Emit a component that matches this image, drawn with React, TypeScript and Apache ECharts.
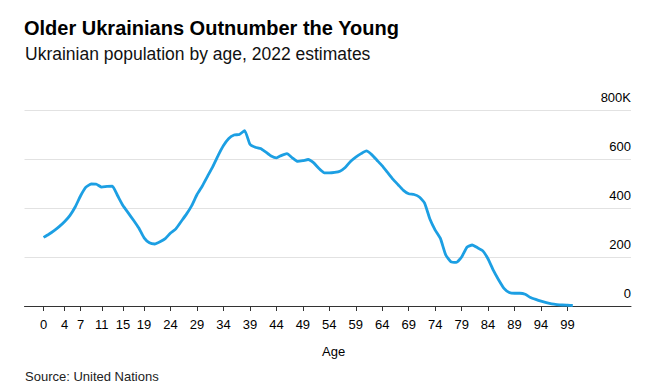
import React, { useEffect, useRef } from "react";
import * as echarts from "echarts";

const ages: number[] = Array.from({ length: 101 }, (_, i) => i);
const population: number[] = [
  280, 293, 308, 325, 345, 370, 405, 450, 485, 498,
  497, 485, 488, 489, 450, 410, 380, 350, 318, 278,
  258, 253, 262, 275, 298, 315, 345, 375, 410, 455,
  490, 530, 570, 615, 655, 684, 698, 700, 716, 660,
  648, 643, 628, 612, 605, 615, 622, 605, 590, 593,
  598, 585, 562, 544, 543, 545, 550, 565, 590, 608,
  622, 633, 618, 595, 572, 545, 518, 495, 472, 458,
  455, 445, 420, 355, 310, 275, 208, 180, 178, 200,
  240, 249, 238, 225, 192, 145, 106, 72, 55, 52,
  52, 48, 35, 27, 20, 14, 9, 6, 4, 3,
  2,
];
const xTicks: number[] = [0, 4, 7, 11, 15, 19, 24, 29, 34, 39, 44, 49, 54, 59, 64, 69, 74, 79, 84, 89, 94, 99];
const yTicks: number[] = [0, 200, 400, 600, 800];

const title = "Older Ukrainians Outnumber the Young";
const subtitle = "Ukrainian population by age, 2022 estimates";
const source = "Source: United Nations";
const font = "'Liberation Sans', Arial, Helvetica, sans-serif";

export default function App() {
  const ref = useRef<HTMLDivElement>(null);
  useEffect(() => {
    if (!ref.current) return;
    const chart = echarts.init(ref.current, null, { renderer: "svg" });
    chart.setOption({
      animation: false,
      backgroundColor: "#ffffff",
      textStyle: { fontFamily: font },
      grid: { left: 24.5, right: 26, top: 110, bottom: 85, containLabel: false },
      graphic: [
        { type: "text", left: 24, top: 18, style: { text: title, font: `bold 20px ${font}`, fill: "#000" } },
        { type: "text", left: 25, top: 45, style: { text: subtitle, font: `17.5px ${font}`, fill: "#111" } },
        { type: "text", left: 322, top: 345, style: { text: "Age", font: `13px ${font}`, fill: "#000" } },
        { type: "text", left: 25, top: 370, style: { text: source, font: `13px ${font}`, fill: "#222" } },
      ],
      xAxis: {
        type: "value",
        min: -3.6,
        max: 111,
        axisLine: { show: true, lineStyle: { color: "#333", width: 1 } },
        axisTick: { show: true, customValues: xTicks, length: 5, lineStyle: { color: "#333" } },
        axisLabel: { customValues: xTicks, color: "#000", fontSize: 13, margin: 12, fontFamily: font },
        splitLine: { show: false },
      },
      yAxis: {
        type: "value",
        position: "right",
        min: yTicks[0],
        max: yTicks[yTicks.length - 1],
        interval: 200,
        axisLine: { show: false },
        axisTick: { show: false },
        axisLabel: {
          inside: true,
          margin: 0,
          verticalAlign: "bottom",
          padding: [0, 0, 6, 0],
          color: "#000",
          fontSize: 13,
          fontFamily: font,
          formatter: (v: number) => (v === 800 ? "800K" : String(v)),
        },
        splitLine: { show: true, lineStyle: { color: "#e2e2e2", width: 1 } },
      },
      series: [
        {
          type: "line",
          data: ages.map((a, i) => [a, population[i]]),
          showSymbol: false,
          smooth: 0.15,
          lineStyle: { color: "#1C9FE3", width: 2.8 },
          z: 3,
        },
      ],
    });
    return () => chart.dispose();
  }, []);
  return <div ref={ref} style={{ width: 657, height: 391, position: "absolute", left: 0, top: 0 }} />;
}
